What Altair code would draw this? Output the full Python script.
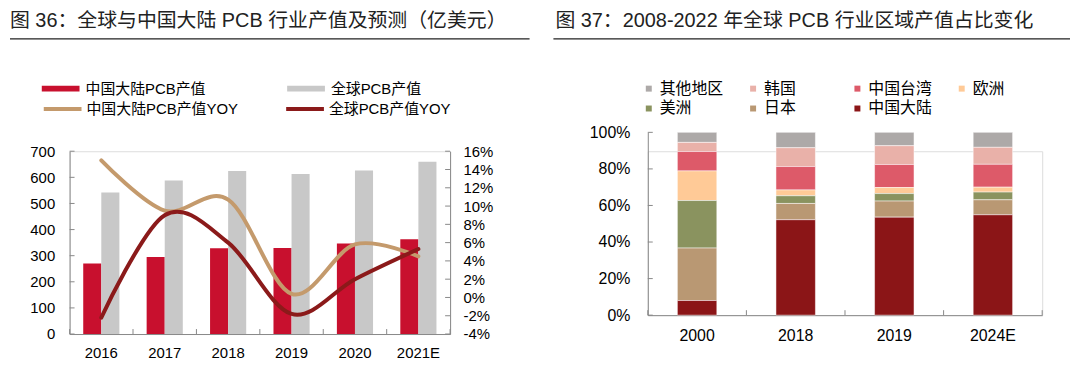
import altair as alt
import pandas as pd

FONT = "Liberation Sans, Arial, Noto Sans CJK SC, sans-serif"
AXIS_GREY = "#888888"

# ---------------- Left chart data ----------------
years = ["2016", "2017", "2018", "2019", "2020", "2021E"]
cn_value = [270, 295, 328, 329, 347, 363]
global_value = [542, 588, 624, 613, 626, 660]
cn_yoy = [15.0, 9.5, 10.7, 0.4, 5.8, 4.5]
global_yoy = [-2.2, 9.0, 6.0, -1.8, 2.0, 5.3]
bar_series = ["中国大陆PCB产值", "全球PCB产值"]
line_series = ["中国大陆PCB产值YOY", "全球PCB产值YOY"]
left_ticks = [0, 100, 200, 300, 400, 500, 600, 700]
right_ticks = [-4, -2, 0, 2, 4, 6, 8, 10, 12, 14, 16]
title_left = "图 36：全球与中国大陆 PCB 行业产值及预测（亿美元）"

# ---------------- Right chart data ----------------
periods = ["2000", "2018", "2019", "2024E"]
regions = ["其他地区", "韩国", "中国台湾", "欧洲", "美洲", "日本", "中国大陆"]
region_colors = ["#ADA9A8", "#E9B1A9", "#DD5A69", "#FFCA97", "#8A935F", "#B99873", "#8B1517"]
share_other = [5.5, 8.4, 7.3, 8.2]
share_korea = [5.0, 10.3, 10.3, 9.3]
share_taiwan = [10.6, 12.8, 12.6, 12.5]
share_europe = [16.2, 3.2, 3.3, 2.7]
share_america = [26.0, 4.2, 4.1, 4.2]
share_japan = [28.7, 8.9, 8.8, 8.2]
share_mainland = [8.0, 52.2, 53.6, 54.9]
pct_ticks = [0, 20, 40, 60, 80, 100]
title_right = "图 37：2008-2022 年全球 PCB 行业区域产值占比变化"

# ---------------- tables ----------------
bar_df = pd.DataFrame(
    [{"year": y, "series": bar_series[0], "value": v} for y, v in zip(years, cn_value)]
    + [{"year": y, "series": bar_series[1], "value": v} for y, v in zip(years, global_value)]
)
line_df = pd.DataFrame(
    [{"year": y, "series": line_series[0], "yoy": v} for y, v in zip(years, cn_yoy)]
    + [{"year": y, "series": line_series[1], "yoy": v} for y, v in zip(years, global_yoy)]
)
share_lists = [share_other, share_korea, share_taiwan, share_europe,
               share_america, share_japan, share_mainland]
rows = []
for ri, (reg, vals) in enumerate(zip(regions, share_lists)):
    for p, v in zip(periods, vals):
        rows.append({"period": p, "region": reg, "share": v, "rank": len(regions) - 1 - ri})
share_df = pd.DataFrame(rows)

# ---------------- Left chart ----------------
W1, H1 = 383, 184
PI1 = 0.43
xs1 = alt.Scale(domain=years, paddingInner=PI1, paddingOuter=PI1 / 2)
xaxis1 = alt.Axis(title=None, domainColor=AXIS_GREY, ticks=False, tickSize=0, labelAngle=0,
                  labelFontSize=15, labelPadding=12, labelColor="#000", labelFont=FONT)
ys_left = alt.Scale(domain=[0, 700], nice=False)
yaxis_left = alt.Axis(orient="left", title=None, values=left_ticks, grid=False, ticks=False,
                      tickSize=0, domainColor=AXIS_GREY, labelFontSize=15, labelPadding=15,
                      labelColor="#000", labelFont=FONT)
ys_right = alt.Scale(domain=[-4, 16], nice=False)
yaxis_right = alt.Axis(orient="right", title=None, values=right_ticks, grid=False, ticks=False,
                       tickSize=0, domainColor=AXIS_GREY, labelFontSize=15, labelPadding=13,
                       labelColor="#000", labelFont=FONT, labelExpr="datum.value + '%'")

bars = alt.Chart(bar_df).mark_bar().encode(
    x=alt.X("year:N", scale=xs1, axis=xaxis1),
    xOffset=alt.XOffset("series:N", scale=alt.Scale(domain=bar_series, paddingInner=0, paddingOuter=0)),
    y=alt.Y("value:Q", scale=ys_left, axis=yaxis_left),
    color=alt.Color("series:N", scale=alt.Scale(domain=bar_series, range=["#C8102E", "#C8C8C8"]),
                    legend=alt.Legend(orient="none", legendX=-28, legendY=-82, direction="horizontal",
                                      columns=2, columnPadding=82, title=None,
                                      symbolType="M-1,-0.158H1V0.158H-1Z", symbolSize=1444,
                                      symbolStrokeWidth=0, labelFontSize=15, labelFont=FONT,
                                      labelColor="#000", labelOffset=6, labelLimit=300)),
)
yt_left = alt.Chart(pd.DataFrame({"v": left_ticks})).mark_rule(color=AXIS_GREY).encode(
    y=alt.Y("v:Q", scale=ys_left, axis=yaxis_left), x=alt.value(0), x2=alt.value(5)
)

stroke_enc = alt.Stroke("series:N", scale=alt.Scale(domain=line_series, range=["#C49A6C", "#8B1A1A"]),
                        legend=alt.Legend(orient="none", legendX=-28, legendY=-63.5, direction="horizontal",
                                          columns=2, columnPadding=40, title=None, symbolType="stroke",
                                          symbolSize=1444, symbolStrokeWidth=4, labelFontSize=15,
                                          labelFont=FONT, labelColor="#000", labelOffset=3, labelLimit=300))
line_base = alt.Chart(line_df).mark_line(interpolate="cardinal", strokeWidth=4, strokeCap="round")
line_tan = line_base.transform_filter(alt.datum.series == line_series[0]).encode(
    x=alt.X("year:N", scale=xs1, axis=xaxis1),
    y=alt.Y("yoy:Q", scale=ys_right, axis=yaxis_right),
    stroke=stroke_enc,
)
line_red = line_base.transform_filter(alt.datum.series == line_series[1]).encode(
    x=alt.X("year:N", scale=xs1, axis=xaxis1),
    y=alt.Y("yoy:Q", scale=ys_right, axis=yaxis_right),
    stroke=stroke_enc,
)
yt_right = alt.Chart(pd.DataFrame({"v": right_ticks})).mark_rule(color=AXIS_GREY).encode(
    y=alt.Y("v:Q", scale=ys_right, axis=yaxis_right), x=alt.value(W1 - 5), x2=alt.value(W1)
)

gap1 = PI1 * (W1 / len(years)) / 2
xt_left = alt.Chart(pd.DataFrame({"year": years})).mark_rule(color=AXIS_GREY, xOffset=-gap1).encode(
    x=alt.X("year:N", scale=xs1, axis=xaxis1, bandPosition=0), y=alt.value(H1 - 5), y2=alt.value(H1)
)
xt_left_end = alt.Chart(pd.DataFrame({"year": years[-1:]})).mark_rule(color=AXIS_GREY, xOffset=gap1).encode(
    x=alt.X("year:N", scale=xs1, axis=xaxis1, bandPosition=1), y=alt.value(H1 - 5), y2=alt.value(H1)
)

title1 = alt.Chart(pd.DataFrame({"t": [title_left]})).mark_text(
    align="left", baseline="middle", fontSize=20, font=FONT, color="#222"
).encode(text="t:N", x=alt.value(-60), y=alt.value(-131.5))
rule1 = alt.Chart(pd.DataFrame({"t": [0]})).mark_rule(color="#222", strokeWidth=1.3).encode(
    x=alt.value(-60), x2=alt.value(463), y=alt.value(-113)
)

left = alt.layer(
    alt.layer(bars, yt_left),
    alt.layer(line_tan, line_red, yt_right),
    xt_left, xt_left_end, title1, rule1,
).resolve_scale(y="independent").properties(width=W1, height=H1)

# ---------------- Right chart ----------------
# its plot area sits 19px higher than the left one, while the views share the same origin row
W2, H2, LIFT = 397, 165, 19
PI2 = 0.6
xs2 = alt.Scale(domain=periods, paddingInner=PI2, paddingOuter=PI2 / 2)
xaxis2 = alt.Axis(title=None, domainColor=AXIS_GREY, ticks=False, tickSize=0, labelAngle=0,
                  labelFontSize=16, labelPadding=13, labelColor="#000", labelFont=FONT)
ys2 = alt.Scale(domain=[0, 1], nice=False, range=[H2, -LIFT])
yaxis2 = alt.Axis(orient="left", title=None, values=[p / 100 for p in pct_ticks], format=".0%",
                  grid=False, ticks=False, tickSize=0, domainColor=AXIS_GREY, labelFontSize=16,
                  labelPadding=18, labelColor="#000", labelFont=FONT)

bars2 = alt.Chart(share_df).mark_bar(stroke="white", strokeWidth=0.5).encode(
    x=alt.X("period:N", scale=xs2, axis=xaxis2),
    y=alt.Y("share:Q", stack="normalize", scale=ys2, axis=yaxis2),
    color=alt.Color("region:N", scale=alt.Scale(domain=regions, range=region_colors),
                    legend=alt.Legend(orient="none", legendX=-7, legendY=-52 - LIFT, direction="horizontal",
                                      columns=4, columnPadding=21, rowPadding=4, gridAlign="all",
                                      title=None, symbolType="square", symbolSize=36,
                                      symbolStrokeWidth=0, labelFontSize=16, labelFont=FONT,
                                      labelColor="#000", labelOffset=3, labelLimit=300)),
    order=alt.Order("rank:Q", sort="ascending"),
)
yt2 = alt.Chart(pd.DataFrame({"p": pct_ticks})).transform_calculate(v="datum.p / 100").mark_rule(
    color=AXIS_GREY).encode(y=alt.Y("v:Q", scale=ys2, axis=yaxis2), x=alt.value(0), x2=alt.value(5))
gap2 = PI2 * (W2 / len(periods)) / 2
xt2 = alt.Chart(pd.DataFrame({"period": periods})).mark_rule(color=AXIS_GREY, xOffset=-gap2).encode(
    x=alt.X("period:N", scale=xs2, axis=xaxis2, bandPosition=0), y=alt.value(H2 - 5), y2=alt.value(H2)
)
xt2_end = alt.Chart(pd.DataFrame({"period": periods[-1:]})).mark_rule(color=AXIS_GREY, xOffset=gap2).encode(
    x=alt.X("period:N", scale=xs2, axis=xaxis2, bandPosition=1), y=alt.value(H2 - 5), y2=alt.value(H2)
)
title2 = alt.Chart(pd.DataFrame({"t": [title_right]})).mark_text(
    align="left", baseline="middle", fontSize=20, font=FONT, color="#222"
).encode(text="t:N", x=alt.value(-93), y=alt.value(-112.5 - LIFT))
rule2 = alt.Chart(pd.DataFrame({"t": [0]})).mark_rule(color="#222", strokeWidth=1.3).encode(
    x=alt.value(-95), x2=alt.value(425), y=alt.value(-94 - LIFT)
)

right = alt.layer(bars2, yt2, xt2, xt2_end, title2, rule2).properties(width=W2, height=H2)

chart = alt.hconcat(left, right, spacing=20).resolve_scale(color="independent").properties(
    padding={"left": 0, "top": 1, "right": 0, "bottom": 0}
).configure_view(stroke=None).configure(background="white")

chart.save("out.html", embed_options={"renderer": "svg", "actions": False})
